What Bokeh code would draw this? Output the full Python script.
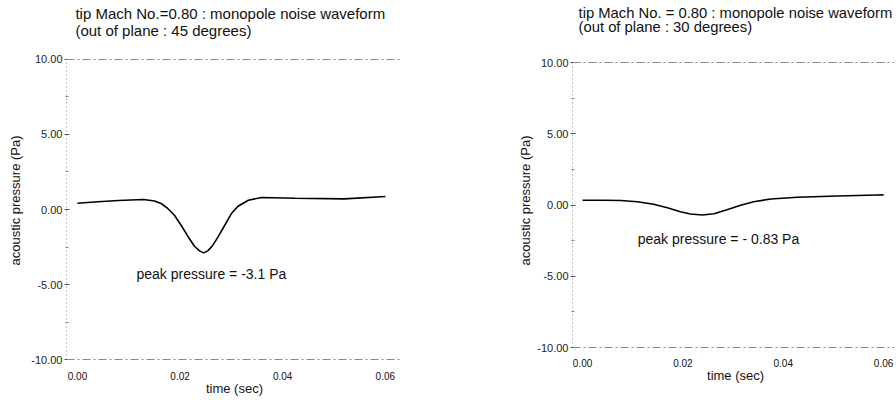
from bokeh.plotting import figure
from bokeh.layouts import row
from bokeh.models import Label, Span, FixedTicker, PrintfTickFormatter, Range1d
from bokeh.embed import file_html
from bokeh.resources import INLINE

# ---- data ----
t_45 = [0.000, 0.004, 0.008, 0.0129, 0.0150, 0.0163, 0.0176, 0.0189, 0.0202, 0.0215, 0.0228,
        0.0238, 0.0246, 0.0254, 0.0264, 0.0274, 0.0287, 0.0300, 0.0313, 0.0333, 0.0359,
        0.0424, 0.0520, 0.0600]
p_45 = [0.42, 0.52, 0.60, 0.67, 0.57, 0.40, 0.07, -0.38, -1.05, -1.78, -2.45,
        -2.76, -2.89, -2.76, -2.38, -1.83, -1.05, -0.27, 0.22, 0.62, 0.80,
        0.75, 0.71, 0.87]

t_30 = [0.000, 0.0042, 0.0076, 0.0109, 0.0142, 0.0169, 0.0195, 0.0215, 0.0239, 0.0262, 0.0288,
        0.0315, 0.0341, 0.0375, 0.0428, 0.0508, 0.0587, 0.0600]
p_30 = [0.33, 0.33, 0.32, 0.23, 0.05, -0.19, -0.47, -0.63, -0.70, -0.61, -0.33,
        -0.02, 0.23, 0.42, 0.54, 0.63, 0.70, 0.71]

y_ticks = [-10, -5, 0, 5, 10]
y_minor = [-7.5, -2.5, 2.5, 7.5]
x_ticks = [0.00, 0.02, 0.04, 0.06]

FONT = "Liberation Sans"
INK = "#111111"


def text(f, x, y, s, size, align="left"):
    f.add_layout(Label(x=x, y=y, text=s, text_font=FONT, text_font_size=size,
                       text_color=INK, text_align=align, text_baseline="middle"))


def panel(t, p, title1, title2, note, note_xy, *, width, bl, br, xr, yr,
          title_size, title_x, title_y1, title_y2, xtick_y, xlabel_xy, ylabel_standoff):
    # the (invisible) frame spans the whole panel height; heading, tick labels and
    # x-axis title are written inside it, the y axis is bounded to -10..10
    f = figure(output_backend="svg", toolbar_location=None,
               width=width, height=400, x_axis_location=None,
               min_border_left=bl, min_border_top=0, min_border_right=br, min_border_bottom=0,
               x_range=Range1d(*xr), y_range=Range1d(*yr),
               background_fill_color="white", border_fill_color="white")
    f.outline_line_color = None
    f.grid.visible = False

    ya = f.yaxis[0]
    ya.bounds = (y_ticks[0], y_ticks[-1])
    ya.ticker = FixedTicker(ticks=y_ticks, minor_ticks=y_minor)
    ya.formatter = PrintfTickFormatter(format="%.2f")
    ya.axis_line_color = "#8a8a8a"
    ya.axis_line_dash = "1 3"
    ya.major_tick_line_color = "#555555"
    ya.major_tick_in = 3
    ya.major_tick_out = 2
    ya.minor_tick_line_color = "#888888"
    ya.minor_tick_in = 2
    ya.minor_tick_out = 1
    ya.major_label_text_font = FONT
    ya.major_label_text_font_size = "11px"
    ya.major_label_text_color = "#222222"
    ya.major_label_standoff = 2
    ya.axis_label = "acoustic pressure (Pa)"
    ya.axis_label_text_font = FONT
    ya.axis_label_text_font_size = "13px"
    ya.axis_label_text_font_style = "normal"
    ya.axis_label_text_color = INK
    ya.axis_label_standoff = ylabel_standoff

    # faint dashed bounding lines at +/-10
    for yv in (y_ticks[0], y_ticks[-1]):
        f.add_layout(Span(location=yv, dimension="width", line_color="#8a8a8a",
                          line_dash="8 3 2 3", line_width=1))

    f.line(t, p, line_color="black", line_width=1.6)

    text(f, note_xy[0], note_xy[1], note, "14px", "center")
    text(f, title_x, title_y1, title1, title_size)
    text(f, title_x, title_y2, title2, title_size)
    for xv in x_ticks:
        text(f, xv, xtick_y, "%.2f" % xv, "10px", "center")
    text(f, xlabel_xy[0], xlabel_xy[1], "time (sec)", "13px", "center")
    return f


left = panel(t_45, p_45,
             "tip Mach No.=0.80 : monopole noise waveform", "(out of plane : 45 degrees)",
             "peak pressure = -3.1 Pa", (0.0261, -4.27),
             width=440, bl=66, br=40, xr=(-0.00214, 0.06296), yr=(-12.733, 13.933),
             title_size="15px", title_x=-0.0004, title_y1=13.07, title_y2=11.93,
             xtick_y=-11.13, xlabel_xy=(0.0306, -11.93), ylabel_standoff=5)
right = panel(t_30, p_30,
              "tip Mach No. = 0.80 : monopole noise waveform", "(out of plane : 30 degrees)",
              "peak pressure = - 0.83 Pa", (0.0271, -2.4),
              width=454, bl=132, br=0, xr=(-0.0020, 0.06218), yr=(-13.719, 14.351),
              title_size="14.8px", title_x=-0.0008, title_y1=13.44, title_y2=12.46,
              xtick_y=-11.12, xlabel_xy=(0.0305, -11.97), ylabel_standoff=1)

layout = row(left, right)
open("out.html", "w").write(file_html(layout, INLINE))
